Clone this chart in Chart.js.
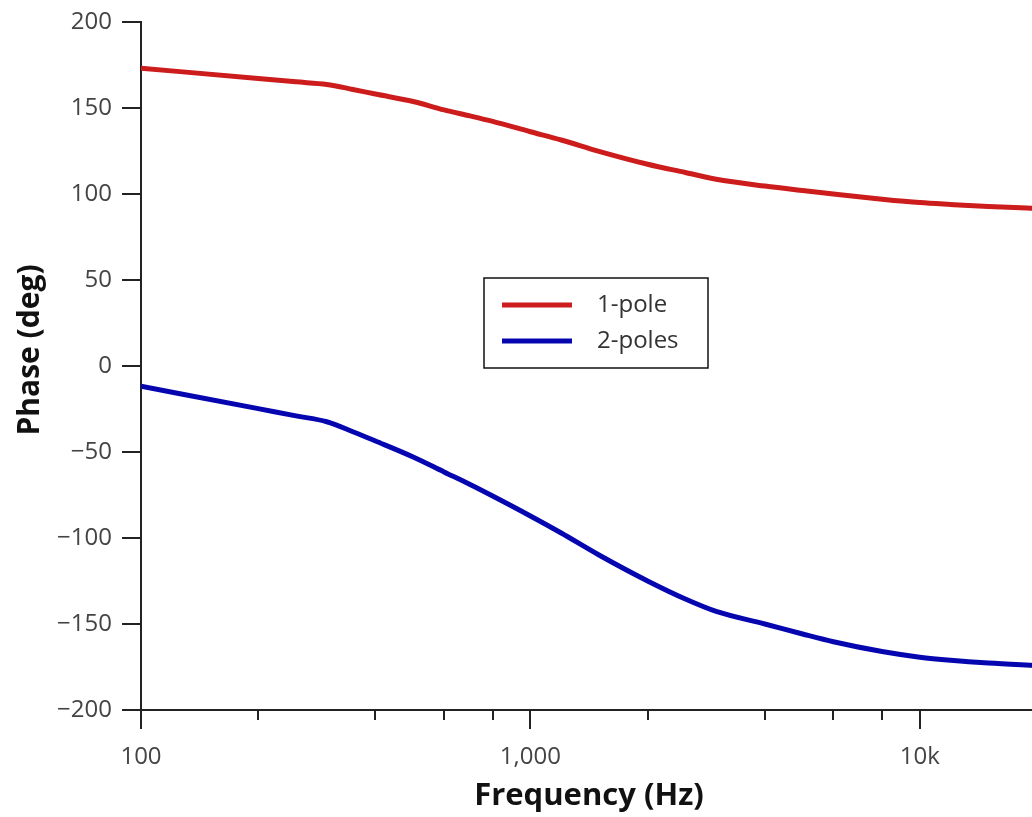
<!DOCTYPE html>
<html>
<head>
<meta charset="utf-8">
<script src="https://cdn.jsdelivr.net/npm/chart.js@4/dist/chart.umd.min.js"></script>
<style>
  html, body { margin: 0; padding: 0; background: #fff; overflow: hidden; }
  canvas { display: block; }
</style>
</head>
<body>
<canvas id="phaseChart" width="1040" height="817"></canvas>
<script>
// Frequências (Hz)
const frequencies = [100, 200, 250, 300, 350, 400, 500, 600, 700, 800, 1000, 1200, 1500, 2000, 2500, 3000, 4000, 5000, 6000, 8000, 10000, 12000, 15000, 20000];

// Fase (graus)
const onePole = [173.1, 167.2, 165.2, 163.7, 160.8, 158.1, 153.8, 148.9, 145.4, 142.2, 136.2, 131.4, 124.8, 117.3, 112.5, 108.6, 104.6, 102, 100, 97, 95, 93.9, 92.7, 91.6];
const twoPoles = [-11.8, -24.8, -29, -32.4, -38.2, -43.6, -52.9, -61.6, -68.9, -75.6, -87.2, -97.1, -109.9, -125, -135.5, -142.7, -150, -155.8, -160.3, -166, -169.3, -171.1, -172.7, -174.1];

// Ticks
const xMajorTicks = [100, 1000, 10000];
const xMinorTicks = [200, 400, 600, 800, 2000, 4000, 6000, 8000, 20000];
const xTickLabels = { 100: '100', 1000: '1,000', 10000: '10k' };
const yTicks = [-200, -150, -100, -50, 0, 50, 100, 150, 200];
const yTitle = 'Phase (deg)';

const theme = {
    red: '#cc1c1c',
    blue: '#0606b0',
    axis: '#222222',
    tickText: '#444444',
    title: '#111111'
};

const fontFamily = "'Open Sans', 'Noto Sans', sans-serif";

// Marcas dos eixos com comprimentos diferentes
const tickMarks = {
    id: 'tickMarks',
    afterDraw(chart) {
        const { ctx, scales: { x, y } } = chart;
        ctx.save();
        ctx.strokeStyle = theme.axis;
        ctx.lineWidth = 2;
        ctx.beginPath();
        xMajorTicks.forEach(v => {
            const px = Math.round(x.getPixelForValue(v));
            ctx.moveTo(px, y.bottom);
            ctx.lineTo(px, y.bottom + 19);
        });
        xMinorTicks.forEach(v => {
            const px = Math.round(x.getPixelForValue(v));
            ctx.moveTo(px, y.bottom);
            ctx.lineTo(px, y.bottom + 10);
        });
        yTicks.forEach(v => {
            const py = Math.round(y.getPixelForValue(v));
            ctx.moveTo(x.left, py);
            ctx.lineTo(x.left - 19, py);
        });
        ctx.stroke();

        // Título do eixo Y
        ctx.translate(30, 350);
        ctx.rotate(-Math.PI / 2);
        ctx.fillStyle = theme.title;
        ctx.font = 'bold 30px ' + fontFamily;
        ctx.textAlign = 'center';
        ctx.textBaseline = 'middle';
        ctx.fillText(yTitle, 0, 0);
        ctx.restore();
    }
};

// Legenda dentro da área do gráfico
const boxLegend = {
    id: 'boxLegend',
    afterDraw(chart) {
        const { ctx } = chart;
        const left = 484, top = 278, w = 224, h = 90;
        ctx.save();
        ctx.fillStyle = '#ffffff';
        ctx.fillRect(left, top, w, h);
        ctx.strokeStyle = '#111111';
        ctx.lineWidth = 1.5;
        ctx.strokeRect(left, top, w, h);
        chart.data.datasets.forEach((ds, i) => {
            const cy = top + 27 + i * 36;
            ctx.strokeStyle = ds.borderColor;
            ctx.lineWidth = 5;
            ctx.beginPath();
            ctx.moveTo(502, cy);
            ctx.lineTo(572, cy);
            ctx.stroke();
            ctx.fillStyle = '#333333';
            ctx.font = '24px ' + fontFamily;
            ctx.textBaseline = 'middle';
            ctx.fillText(ds.label, 597, cy);
        });
        ctx.restore();
    }
};

new Chart(document.getElementById('phaseChart'), {
    type: 'line',
    data: {
        labels: frequencies,
        datasets: [
            {
                label: '1-pole',
                data: frequencies.map((f, i) => ({ x: f, y: onePole[i] })),
                borderColor: theme.red,
                borderWidth: 5,
                pointRadius: 0,
                cubicInterpolationMode: 'monotone',
                fill: false
            },
            {
                label: '2-poles',
                data: frequencies.map((f, i) => ({ x: f, y: twoPoles[i] })),
                borderColor: theme.blue,
                borderWidth: 5,
                pointRadius: 0,
                cubicInterpolationMode: 'monotone',
                fill: false
            }
        ]
    },
    options: {
        responsive: false,
        animation: false,
        layout: { padding: { top: 22, right: 3, left: 0, bottom: 0 } },
        plugins: {
            legend: { display: false },
            tooltip: { enabled: false }
        },
        scales: {
            x: {
                type: 'logarithmic',
                min: 100,
                max: 20000,
                afterBuildTicks(scale) {
                    scale.ticks = xMajorTicks.map(v => ({ value: v }));
                },
                afterFit(scale) {
                    scale.height = 107;
                    scale.paddingLeft = 0;
                    scale.paddingRight = 0;
                },
                grid: { display: false, drawTicks: false },
                border: { display: true, color: theme.axis, width: 2 },
                ticks: {
                    autoSkip: false,
                    maxRotation: 0,
                    padding: 33,
                    color: theme.tickText,
                    font: { size: 24, family: fontFamily },
                    callback: v => xTickLabels[v] || ''
                },
                title: {
                    display: true,
                    text: 'Frequency (Hz)',
                    color: theme.title,
                    font: { size: 31, weight: 'bold', family: fontFamily },
                    padding: { top: 0, bottom: 2 }
                }
            },
            y: {
                min: -200,
                max: 200,
                afterBuildTicks(scale) {
                    scale.ticks = yTicks.map(v => ({ value: v }));
                },
                afterFit(scale) {
                    scale.width = 141;
                    scale.paddingTop = 0;
                    scale.paddingBottom = 0;
                },
                grid: { display: false, drawTicks: false },
                border: { display: true, color: theme.axis, width: 2 },
                ticks: {
                    padding: 29,
                    color: theme.tickText,
                    font: { size: 24, family: fontFamily },
                    callback: v => String(v).replace('-', '\u2212')
                }
            }
        }
    },
    plugins: [tickMarks, boxLegend]
});
</script>
</body>
</html>
